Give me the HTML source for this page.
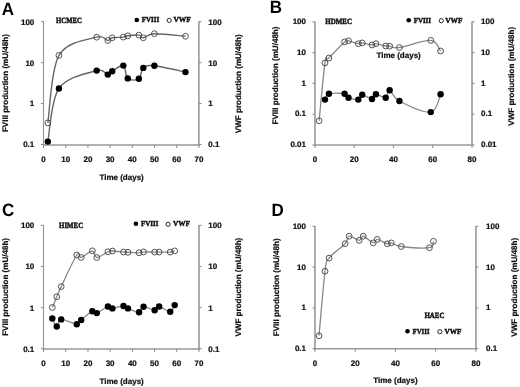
<!DOCTYPE html>
<html><head><meta charset="utf-8"><style>
html,body{margin:0;padding:0;background:#fff;width:520px;height:387px;overflow:hidden}
svg{position:absolute;left:0;top:0;will-change:transform}
.t{font-family:"Liberation Sans",sans-serif;font-weight:bold;font-size:8px;fill:#111;stroke:#111;stroke-width:0.22px}
.s{font-family:"Liberation Serif",serif;font-weight:bold;font-size:7.9px;fill:#111;stroke:#111;stroke-width:0.45px}
.v{font-size:8.05px}
.lg{font-size:7.6px}
.L{font-family:"Liberation Sans",sans-serif;font-weight:bold;font-size:17px;fill:#000}
</style></head><body>
<svg width="520" height="387" viewBox="0 0 520 387" text-rendering="geometricPrecision">
<path d="M43.5,21.40 V145.60" fill="none" stroke="#999999" stroke-width="1.2"/>
<path d="M198.9,21.40 V145.80" fill="none" stroke="#999999" stroke-width="1.6"/>
<path d="M42.90,145.0 H199.70" fill="none" stroke="#999999" stroke-width="1.6"/>
<path d="M40.90,21.70 H43.5 M198.9,21.70 H201.50" stroke="#8a8a8a" stroke-width="1"/>
<text x="34.3" y="24.60" text-anchor="end" class="t">100</text>
<text x="208.3" y="24.60" class="t">100</text>
<path d="M40.90,62.63 H43.5 M198.9,62.63 H201.50" stroke="#8a8a8a" stroke-width="1"/>
<text x="34.3" y="65.53" text-anchor="end" class="t">10</text>
<text x="208.3" y="65.53" class="t">10</text>
<path d="M40.90,103.57 H43.5 M198.9,103.57 H201.50" stroke="#8a8a8a" stroke-width="1"/>
<text x="34.3" y="106.47" text-anchor="end" class="t">1</text>
<text x="208.3" y="106.47" class="t">1</text>
<path d="M40.90,144.50 H43.5 M198.9,144.50 H201.50" stroke="#8a8a8a" stroke-width="1"/>
<text x="34.3" y="147.40" text-anchor="end" class="t">0.1</text>
<text x="208.3" y="147.40" class="t">0.1</text>
<path d="M43.50,145.0 V148.00" stroke="#8a8a8a" stroke-width="1"/>
<text x="43.50" y="161.80" text-anchor="middle" class="t">0</text>
<path d="M65.70,145.0 V148.00" stroke="#8a8a8a" stroke-width="1"/>
<text x="65.70" y="161.80" text-anchor="middle" class="t">10</text>
<path d="M87.90,145.0 V148.00" stroke="#8a8a8a" stroke-width="1"/>
<text x="87.90" y="161.80" text-anchor="middle" class="t">20</text>
<path d="M110.10,145.0 V148.00" stroke="#8a8a8a" stroke-width="1"/>
<text x="110.10" y="161.80" text-anchor="middle" class="t">30</text>
<path d="M132.30,145.0 V148.00" stroke="#8a8a8a" stroke-width="1"/>
<text x="132.30" y="161.80" text-anchor="middle" class="t">40</text>
<path d="M154.50,145.0 V148.00" stroke="#8a8a8a" stroke-width="1"/>
<text x="154.50" y="161.80" text-anchor="middle" class="t">50</text>
<path d="M176.70,145.0 V148.00" stroke="#8a8a8a" stroke-width="1"/>
<text x="176.70" y="161.80" text-anchor="middle" class="t">60</text>
<path d="M198.90,145.0 V148.00" stroke="#8a8a8a" stroke-width="1"/>
<text x="198.90" y="161.80" text-anchor="middle" class="t">70</text>
<text x="121.6" y="180.10" text-anchor="middle" class="t">Time (days)</text>
<text transform="translate(7.8,83.1) rotate(-90)" text-anchor="middle" class="t v">FVIII production (mU/48h)</text>
<text transform="translate(240.8,83.75) rotate(-90)" text-anchor="middle" class="t v">VWF production (mU/48h)</text>
<text transform="translate(1.7,14.9) scale(1,1.05)" class="L">A</text>
<text x="56.1" y="23.2" class="s" textLength="25.80" lengthAdjust="spacingAndGlyphs">HCMEC</text>
<circle cx="136.8" cy="20.0" r="2.3" fill="#000"/>
<text x="141.75" y="22.30" class="s lg" textLength="17.50" lengthAdjust="spacingAndGlyphs">FVIII</text>
<circle cx="169.2" cy="20.4" r="2.1" fill="#fff" stroke="#111" stroke-width="0.9"/>
<text x="173.4" y="22.30" class="s lg" textLength="17.50" lengthAdjust="spacingAndGlyphs">VWF</text>
<path d="M47.84,122.90 C49.69,111.65 50.80,69.68 58.94,55.40 C67.08,41.12 88.54,39.68 96.68,37.20 C104.82,34.72 105.19,40.40 107.78,40.50 C110.37,40.60 109.63,38.37 112.22,37.80 C114.81,37.23 120.73,37.43 123.32,37.10 C125.91,36.77 125.17,36.13 127.76,35.80 C130.35,35.47 136.27,34.77 138.86,35.10 C141.45,35.43 140.71,38.03 143.30,37.80 C145.89,37.57 147.37,33.95 154.40,33.70 C161.43,33.45 180.30,35.87 185.48,36.30" fill="none" stroke="#666" stroke-width="1.4"/>
<path d="M47.84,141.60 C49.69,132.75 50.80,100.33 58.94,88.50 C67.08,76.67 88.54,72.92 96.68,70.60 C104.82,68.28 105.19,74.50 107.78,74.60 C110.37,74.70 109.63,72.70 112.22,71.20 C114.81,69.70 120.73,64.40 123.32,65.60 C125.91,66.80 125.17,76.20 127.76,78.40 C130.35,80.60 136.27,80.55 138.86,78.80 C141.45,77.05 140.71,70.07 143.30,67.90 C145.89,65.73 147.37,65.10 154.40,65.80 C161.43,66.50 180.30,71.05 185.48,72.10" fill="none" stroke="#666" stroke-width="1.4"/>
<circle cx="47.84" cy="122.90" r="2.9" fill="none" stroke="#4a4a4a" stroke-width="0.95"/>
<circle cx="58.94" cy="55.40" r="2.9" fill="none" stroke="#4a4a4a" stroke-width="0.95"/>
<circle cx="96.68" cy="37.20" r="2.9" fill="none" stroke="#4a4a4a" stroke-width="0.95"/>
<circle cx="107.78" cy="40.50" r="2.9" fill="none" stroke="#4a4a4a" stroke-width="0.95"/>
<circle cx="112.22" cy="37.80" r="2.9" fill="none" stroke="#4a4a4a" stroke-width="0.95"/>
<circle cx="123.32" cy="37.10" r="2.9" fill="none" stroke="#4a4a4a" stroke-width="0.95"/>
<circle cx="127.76" cy="35.80" r="2.9" fill="none" stroke="#4a4a4a" stroke-width="0.95"/>
<circle cx="138.86" cy="35.10" r="2.9" fill="none" stroke="#4a4a4a" stroke-width="0.95"/>
<circle cx="143.30" cy="37.80" r="2.9" fill="none" stroke="#4a4a4a" stroke-width="0.95"/>
<circle cx="154.40" cy="33.70" r="2.9" fill="none" stroke="#4a4a4a" stroke-width="0.95"/>
<circle cx="185.48" cy="36.30" r="2.9" fill="none" stroke="#4a4a4a" stroke-width="0.95"/>
<circle cx="47.84" cy="141.60" r="3.2" fill="#000"/>
<circle cx="58.94" cy="88.50" r="3.2" fill="#000"/>
<circle cx="96.68" cy="70.60" r="3.2" fill="#000"/>
<circle cx="107.78" cy="74.60" r="3.2" fill="#000"/>
<circle cx="112.22" cy="71.20" r="3.2" fill="#000"/>
<circle cx="123.32" cy="65.60" r="3.2" fill="#000"/>
<circle cx="127.76" cy="78.40" r="3.2" fill="#000"/>
<circle cx="138.86" cy="78.80" r="3.2" fill="#000"/>
<circle cx="143.30" cy="67.90" r="3.2" fill="#000"/>
<circle cx="154.40" cy="65.80" r="3.2" fill="#000"/>
<circle cx="185.48" cy="72.10" r="3.2" fill="#000"/>
<path d="M314.95,21.50 V145.80" fill="none" stroke="#999999" stroke-width="1.6"/>
<path d="M472.0,21.50 V145.80" fill="none" stroke="#999999" stroke-width="1.6"/>
<path d="M314.15,145.0 H472.80" fill="none" stroke="#999999" stroke-width="1.6"/>
<path d="M312.35,21.80 H314.95 M472.0,21.80 H474.60" stroke="#8a8a8a" stroke-width="1"/>
<text x="306.0" y="24.00" text-anchor="end" class="t">100</text>
<text x="481.0" y="24.00" class="t">100</text>
<path d="M312.35,52.60 H314.95 M472.0,52.60 H474.60" stroke="#8a8a8a" stroke-width="1"/>
<text x="306.0" y="54.80" text-anchor="end" class="t">10</text>
<text x="481.0" y="54.80" class="t">10</text>
<path d="M312.35,83.40 H314.95 M472.0,83.40 H474.60" stroke="#8a8a8a" stroke-width="1"/>
<text x="306.0" y="85.60" text-anchor="end" class="t">1</text>
<text x="481.0" y="85.60" class="t">1</text>
<path d="M312.35,114.20 H314.95 M472.0,114.20 H474.60" stroke="#8a8a8a" stroke-width="1"/>
<text x="306.0" y="116.40" text-anchor="end" class="t">0.1</text>
<text x="481.0" y="116.40" class="t">0.1</text>
<path d="M312.35,145.00 H314.95 M472.0,145.00 H474.60" stroke="#8a8a8a" stroke-width="1"/>
<text x="306.0" y="147.20" text-anchor="end" class="t">0.01</text>
<text x="481.0" y="147.20" class="t">0.01</text>
<path d="M314.95,145.0 V148.00" stroke="#8a8a8a" stroke-width="1"/>
<text x="314.95" y="161.80" text-anchor="middle" class="t">0</text>
<path d="M354.21,145.0 V148.00" stroke="#8a8a8a" stroke-width="1"/>
<text x="354.21" y="161.80" text-anchor="middle" class="t">20</text>
<path d="M393.48,145.0 V148.00" stroke="#8a8a8a" stroke-width="1"/>
<text x="393.48" y="161.80" text-anchor="middle" class="t">40</text>
<path d="M432.74,145.0 V148.00" stroke="#8a8a8a" stroke-width="1"/>
<text x="432.74" y="161.80" text-anchor="middle" class="t">60</text>
<path d="M472.00,145.0 V148.00" stroke="#8a8a8a" stroke-width="1"/>
<text x="472.00" y="161.80" text-anchor="middle" class="t">80</text>
<text x="398.6" y="58.20" text-anchor="middle" class="t">Time (days)</text>
<text transform="translate(277.5,75.5) rotate(-90)" text-anchor="middle" class="t v">FVIII production (mU/48h)</text>
<text transform="translate(514.2,76.3) rotate(-90)" text-anchor="middle" class="t v">VWF production (mU/48h)</text>
<text transform="translate(269.8,12.7) scale(1,1.05)" class="L">B</text>
<text x="325.29999999999995" y="23.7" class="s" textLength="26.60" lengthAdjust="spacingAndGlyphs">HDMEC</text>
<circle cx="408.7" cy="20.3" r="2.3" fill="#000"/>
<text x="413.65000000000003" y="22.60" class="s lg" textLength="17.40" lengthAdjust="spacingAndGlyphs">FVIII</text>
<circle cx="441.3" cy="20.7" r="2.1" fill="#fff" stroke="#111" stroke-width="0.9"/>
<text x="445.29999999999995" y="22.60" class="s lg" textLength="17.10" lengthAdjust="spacingAndGlyphs">VWF</text>
<path d="M319.12,120.80 C320.10,111.15 323.36,73.37 325.00,62.90 C326.63,52.43 325.65,61.50 328.91,58.00 C332.18,54.50 341.32,44.77 344.58,41.90 C347.85,39.03 346.22,40.50 348.50,40.80 C350.79,41.10 356.01,43.35 358.30,43.70 C360.58,44.05 359.93,42.68 362.22,42.90 C364.50,43.12 369.73,44.87 372.01,45.00 C374.30,45.13 373.64,43.53 375.93,43.70 C378.21,43.87 383.44,45.58 385.72,46.00 C388.01,46.42 387.36,45.95 389.64,46.20 C391.93,46.45 392.58,48.47 399.44,47.50 C406.29,46.53 423.92,39.82 430.78,40.40 C437.64,40.98 438.94,49.23 440.58,51.00" fill="none" stroke="#888" stroke-width="1.3"/>
<path d="M325.00,99.60 C325.65,98.62 325.65,94.68 328.91,93.70 C332.18,92.72 341.32,93.03 344.58,93.70 C347.85,94.37 346.22,96.72 348.50,97.70 C350.79,98.68 356.01,100.08 358.30,99.60 C360.58,99.12 359.93,94.90 362.22,94.80 C364.50,94.70 369.73,99.10 372.01,99.00 C374.30,98.90 373.64,94.42 375.93,94.20 C378.21,93.98 383.44,98.37 385.72,97.70 C388.01,97.03 387.36,89.65 389.64,90.20 C391.93,90.75 392.58,97.35 399.44,101.00 C406.29,104.65 423.92,113.23 430.78,112.10 C437.64,110.97 438.94,97.18 440.58,94.20" fill="none" stroke="#888" stroke-width="1.3"/>
<circle cx="319.12" cy="120.80" r="2.9" fill="none" stroke="#4a4a4a" stroke-width="0.95"/>
<circle cx="325.00" cy="62.90" r="2.9" fill="none" stroke="#4a4a4a" stroke-width="0.95"/>
<circle cx="328.91" cy="58.00" r="2.9" fill="none" stroke="#4a4a4a" stroke-width="0.95"/>
<circle cx="344.58" cy="41.90" r="2.9" fill="none" stroke="#4a4a4a" stroke-width="0.95"/>
<circle cx="348.50" cy="40.80" r="2.9" fill="none" stroke="#4a4a4a" stroke-width="0.95"/>
<circle cx="358.30" cy="43.70" r="2.9" fill="none" stroke="#4a4a4a" stroke-width="0.95"/>
<circle cx="362.22" cy="42.90" r="2.9" fill="none" stroke="#4a4a4a" stroke-width="0.95"/>
<circle cx="372.01" cy="45.00" r="2.9" fill="none" stroke="#4a4a4a" stroke-width="0.95"/>
<circle cx="375.93" cy="43.70" r="2.9" fill="none" stroke="#4a4a4a" stroke-width="0.95"/>
<circle cx="385.72" cy="46.00" r="2.9" fill="none" stroke="#4a4a4a" stroke-width="0.95"/>
<circle cx="389.64" cy="46.20" r="2.9" fill="none" stroke="#4a4a4a" stroke-width="0.95"/>
<circle cx="399.44" cy="47.50" r="2.9" fill="none" stroke="#4a4a4a" stroke-width="0.95"/>
<circle cx="430.78" cy="40.40" r="2.9" fill="none" stroke="#4a4a4a" stroke-width="0.95"/>
<circle cx="440.58" cy="51.00" r="2.9" fill="none" stroke="#4a4a4a" stroke-width="0.95"/>
<circle cx="325.00" cy="99.60" r="3.2" fill="#000"/>
<circle cx="328.91" cy="93.70" r="3.2" fill="#000"/>
<circle cx="344.58" cy="93.70" r="3.2" fill="#000"/>
<circle cx="348.50" cy="97.70" r="3.2" fill="#000"/>
<circle cx="358.30" cy="99.60" r="3.2" fill="#000"/>
<circle cx="362.22" cy="94.80" r="3.2" fill="#000"/>
<circle cx="372.01" cy="99.00" r="3.2" fill="#000"/>
<circle cx="375.93" cy="94.20" r="3.2" fill="#000"/>
<circle cx="385.72" cy="97.70" r="3.2" fill="#000"/>
<circle cx="389.64" cy="90.20" r="3.2" fill="#000"/>
<circle cx="399.44" cy="101.00" r="3.2" fill="#000"/>
<circle cx="430.78" cy="112.10" r="3.2" fill="#000"/>
<circle cx="440.58" cy="94.20" r="3.2" fill="#000"/>
<path d="M43.5,225.10 V349.60" fill="none" stroke="#999999" stroke-width="1.2"/>
<path d="M199.0,225.10 V349.80" fill="none" stroke="#999999" stroke-width="1.6"/>
<path d="M42.90,349.0 H199.80" fill="none" stroke="#999999" stroke-width="1.6"/>
<path d="M40.90,225.40 H43.5 M199.0,225.40 H201.60" stroke="#8a8a8a" stroke-width="1"/>
<text x="34.3" y="228.30" text-anchor="end" class="t">100</text>
<text x="208.3" y="228.30" class="t">100</text>
<path d="M40.90,266.50 H43.5 M199.0,266.50 H201.60" stroke="#8a8a8a" stroke-width="1"/>
<text x="34.3" y="269.40" text-anchor="end" class="t">10</text>
<text x="208.3" y="269.40" class="t">10</text>
<path d="M40.90,307.60 H43.5 M199.0,307.60 H201.60" stroke="#8a8a8a" stroke-width="1"/>
<text x="34.3" y="310.50" text-anchor="end" class="t">1</text>
<text x="208.3" y="310.50" class="t">1</text>
<path d="M40.90,348.70 H43.5 M199.0,348.70 H201.60" stroke="#8a8a8a" stroke-width="1"/>
<text x="34.3" y="351.60" text-anchor="end" class="t">0.1</text>
<text x="208.3" y="351.60" class="t">0.1</text>
<path d="M43.50,349.0 V352.00" stroke="#8a8a8a" stroke-width="1"/>
<text x="43.50" y="365.80" text-anchor="middle" class="t">0</text>
<path d="M65.71,349.0 V352.00" stroke="#8a8a8a" stroke-width="1"/>
<text x="65.71" y="365.80" text-anchor="middle" class="t">10</text>
<path d="M87.93,349.0 V352.00" stroke="#8a8a8a" stroke-width="1"/>
<text x="87.93" y="365.80" text-anchor="middle" class="t">20</text>
<path d="M110.14,349.0 V352.00" stroke="#8a8a8a" stroke-width="1"/>
<text x="110.14" y="365.80" text-anchor="middle" class="t">30</text>
<path d="M132.36,349.0 V352.00" stroke="#8a8a8a" stroke-width="1"/>
<text x="132.36" y="365.80" text-anchor="middle" class="t">40</text>
<path d="M154.57,349.0 V352.00" stroke="#8a8a8a" stroke-width="1"/>
<text x="154.57" y="365.80" text-anchor="middle" class="t">50</text>
<path d="M176.79,349.0 V352.00" stroke="#8a8a8a" stroke-width="1"/>
<text x="176.79" y="365.80" text-anchor="middle" class="t">60</text>
<path d="M199.00,349.0 V352.00" stroke="#8a8a8a" stroke-width="1"/>
<text x="199.00" y="365.80" text-anchor="middle" class="t">70</text>
<text x="121.6" y="383.80" text-anchor="middle" class="t">Time (days)</text>
<text transform="translate(7.9,286.9) rotate(-90)" text-anchor="middle" class="t v">FVIII production (mU/48h)</text>
<text transform="translate(240.7,287.1) rotate(-90)" text-anchor="middle" class="t v">VWF production (mU/48h)</text>
<text transform="translate(1.9,215.9) scale(1,1.05)" class="L">C</text>
<text x="59.1" y="227.7" class="s" textLength="24.00" lengthAdjust="spacingAndGlyphs">HIMEC</text>
<circle cx="135.9" cy="223.7" r="2.3" fill="#000"/>
<text x="140.95" y="226.20" class="s lg" textLength="17.50" lengthAdjust="spacingAndGlyphs">FVIII</text>
<circle cx="168.1" cy="224.3" r="2.1" fill="#fff" stroke="#111" stroke-width="0.9"/>
<text x="173.0" y="226.20" class="s lg" textLength="16.90" lengthAdjust="spacingAndGlyphs">VWF</text>
<path d="M52.30,307.50 C53.04,305.72 55.27,300.28 56.75,296.80 C58.23,293.32 57.86,293.57 61.20,286.60 C64.54,279.63 73.44,259.85 76.78,255.00 C80.11,250.15 78.63,258.20 81.22,257.50 C83.82,256.80 89.75,250.80 92.35,250.80 C94.95,250.80 94.20,257.33 96.80,257.50 C99.40,257.67 105.33,252.88 107.93,251.80 C110.52,250.72 109.78,250.97 112.38,251.00 C114.97,251.03 120.90,251.78 123.50,252.00 C126.10,252.22 125.35,252.17 127.95,252.30 C130.55,252.43 136.48,252.87 139.07,252.80 C141.67,252.73 140.93,252.02 143.53,251.90 C146.12,251.78 152.05,252.07 154.65,252.10 C157.25,252.13 156.50,252.10 159.10,252.10 C161.70,252.10 167.63,252.30 170.22,252.10 C172.82,251.90 173.93,251.10 174.68,250.90" fill="none" stroke="#888" stroke-width="1.3"/>
<path d="M52.30,318.50 C53.04,319.83 55.27,326.35 56.75,326.50 C58.23,326.65 57.86,319.78 61.20,319.40 C64.54,319.02 73.44,324.10 76.78,324.20 C80.11,324.30 78.63,322.17 81.22,320.00 C83.82,317.83 89.75,312.35 92.35,311.20 C94.95,310.05 94.20,313.88 96.80,313.10 C99.40,312.32 105.33,307.28 107.93,306.50 C110.52,305.72 109.78,308.48 112.38,308.40 C114.97,308.32 120.90,306.00 123.50,306.00 C126.10,306.00 125.35,307.35 127.95,308.40 C130.55,309.45 136.48,312.58 139.07,312.30 C141.67,312.02 140.93,307.05 143.53,306.70 C146.12,306.35 152.05,310.23 154.65,310.20 C157.25,310.17 156.50,306.23 159.10,306.50 C161.70,306.77 167.63,312.03 170.22,311.80 C172.82,311.57 173.93,306.22 174.68,305.10" fill="none" stroke="#888" stroke-width="1.3"/>
<circle cx="52.30" cy="307.50" r="2.9" fill="none" stroke="#4a4a4a" stroke-width="0.95"/>
<circle cx="56.75" cy="296.80" r="2.9" fill="none" stroke="#4a4a4a" stroke-width="0.95"/>
<circle cx="61.20" cy="286.60" r="2.9" fill="none" stroke="#4a4a4a" stroke-width="0.95"/>
<circle cx="76.78" cy="255.00" r="2.9" fill="none" stroke="#4a4a4a" stroke-width="0.95"/>
<circle cx="81.22" cy="257.50" r="2.9" fill="none" stroke="#4a4a4a" stroke-width="0.95"/>
<circle cx="92.35" cy="250.80" r="2.9" fill="none" stroke="#4a4a4a" stroke-width="0.95"/>
<circle cx="96.80" cy="257.50" r="2.9" fill="none" stroke="#4a4a4a" stroke-width="0.95"/>
<circle cx="107.93" cy="251.80" r="2.9" fill="none" stroke="#4a4a4a" stroke-width="0.95"/>
<circle cx="112.38" cy="251.00" r="2.9" fill="none" stroke="#4a4a4a" stroke-width="0.95"/>
<circle cx="123.50" cy="252.00" r="2.9" fill="none" stroke="#4a4a4a" stroke-width="0.95"/>
<circle cx="127.95" cy="252.30" r="2.9" fill="none" stroke="#4a4a4a" stroke-width="0.95"/>
<circle cx="139.07" cy="252.80" r="2.9" fill="none" stroke="#4a4a4a" stroke-width="0.95"/>
<circle cx="143.53" cy="251.90" r="2.9" fill="none" stroke="#4a4a4a" stroke-width="0.95"/>
<circle cx="154.65" cy="252.10" r="2.9" fill="none" stroke="#4a4a4a" stroke-width="0.95"/>
<circle cx="159.10" cy="252.10" r="2.9" fill="none" stroke="#4a4a4a" stroke-width="0.95"/>
<circle cx="170.22" cy="252.10" r="2.9" fill="none" stroke="#4a4a4a" stroke-width="0.95"/>
<circle cx="174.68" cy="250.90" r="2.9" fill="none" stroke="#4a4a4a" stroke-width="0.95"/>
<circle cx="52.30" cy="318.50" r="3.2" fill="#000"/>
<circle cx="56.75" cy="326.50" r="3.2" fill="#000"/>
<circle cx="61.20" cy="319.40" r="3.2" fill="#000"/>
<circle cx="76.78" cy="324.20" r="3.2" fill="#000"/>
<circle cx="81.22" cy="320.00" r="3.2" fill="#000"/>
<circle cx="92.35" cy="311.20" r="3.2" fill="#000"/>
<circle cx="96.80" cy="313.10" r="3.2" fill="#000"/>
<circle cx="107.93" cy="306.50" r="3.2" fill="#000"/>
<circle cx="112.38" cy="308.40" r="3.2" fill="#000"/>
<circle cx="123.50" cy="306.00" r="3.2" fill="#000"/>
<circle cx="127.95" cy="308.40" r="3.2" fill="#000"/>
<circle cx="139.07" cy="312.30" r="3.2" fill="#000"/>
<circle cx="143.53" cy="306.70" r="3.2" fill="#000"/>
<circle cx="154.65" cy="310.20" r="3.2" fill="#000"/>
<circle cx="159.10" cy="306.50" r="3.2" fill="#000"/>
<circle cx="170.22" cy="311.80" r="3.2" fill="#000"/>
<circle cx="174.68" cy="305.10" r="3.2" fill="#000"/>
<path d="M314.95,226.00 V349.60" fill="none" stroke="#999999" stroke-width="1.6"/>
<path d="M475.9,226.00 V349.60" fill="none" stroke="#999999" stroke-width="1.6"/>
<path d="M314.15,348.8 H476.70" fill="none" stroke="#999999" stroke-width="1.6"/>
<path d="M312.35,226.30 H314.95 M475.9,226.30 H478.50" stroke="#8a8a8a" stroke-width="1"/>
<text x="306.0" y="228.70" text-anchor="end" class="t">100</text>
<text x="486.0" y="228.70" class="t">100</text>
<path d="M312.35,267.10 H314.95 M475.9,267.10 H478.50" stroke="#8a8a8a" stroke-width="1"/>
<text x="306.0" y="269.50" text-anchor="end" class="t">10</text>
<text x="486.0" y="269.50" class="t">10</text>
<path d="M312.35,307.90 H314.95 M475.9,307.90 H478.50" stroke="#8a8a8a" stroke-width="1"/>
<text x="306.0" y="310.30" text-anchor="end" class="t">1</text>
<text x="486.0" y="310.30" class="t">1</text>
<path d="M312.35,348.70 H314.95 M475.9,348.70 H478.50" stroke="#8a8a8a" stroke-width="1"/>
<text x="306.0" y="351.10" text-anchor="end" class="t">0.1</text>
<text x="486.0" y="351.10" class="t">0.1</text>
<path d="M314.95,348.8 V351.80" stroke="#8a8a8a" stroke-width="1"/>
<text x="314.95" y="365.80" text-anchor="middle" class="t">0</text>
<path d="M355.19,348.8 V351.80" stroke="#8a8a8a" stroke-width="1"/>
<text x="355.19" y="365.80" text-anchor="middle" class="t">20</text>
<path d="M395.42,348.8 V351.80" stroke="#8a8a8a" stroke-width="1"/>
<text x="395.42" y="365.80" text-anchor="middle" class="t">40</text>
<path d="M435.66,348.8 V351.80" stroke="#8a8a8a" stroke-width="1"/>
<text x="435.66" y="365.80" text-anchor="middle" class="t">60</text>
<path d="M475.90,348.8 V351.80" stroke="#8a8a8a" stroke-width="1"/>
<text x="475.90" y="365.80" text-anchor="middle" class="t">80</text>
<text x="395.4" y="382.60" text-anchor="middle" class="t">Time (days)</text>
<text transform="translate(278.6,287.3) rotate(-90)" text-anchor="middle" class="t v">FVIII production (mU/48h)</text>
<text transform="translate(516.6,287.3) rotate(-90)" text-anchor="middle" class="t v">VWF production (mU/48h)</text>
<text transform="translate(271.6,216.0) scale(1,1.05)" class="L">D</text>
<text x="424.5" y="317.9" class="s" textLength="19.90" lengthAdjust="spacingAndGlyphs">HAEC</text>
<circle cx="407.5" cy="331.3" r="2.3" fill="#000"/>
<text x="412.55" y="333.70" class="s lg" textLength="17.00" lengthAdjust="spacingAndGlyphs">FVIII</text>
<circle cx="439.8" cy="331.7" r="2.1" fill="#fff" stroke="#111" stroke-width="0.9"/>
<text x="444.5" y="333.70" class="s lg" textLength="16.80" lengthAdjust="spacingAndGlyphs">VWF</text>
<path d="M319.01,335.80 C320.02,325.03 323.36,284.15 325.04,271.20 C326.71,258.25 325.71,262.68 329.05,258.10 C332.40,253.52 341.77,247.35 345.11,243.70 C348.46,240.05 346.79,236.75 349.13,236.20 C351.47,235.65 356.82,240.40 359.17,240.40 C361.51,240.40 360.84,235.78 363.18,236.20 C365.52,236.62 370.88,242.37 373.22,242.90 C375.56,243.43 374.89,239.25 377.23,239.40 C379.57,239.55 384.93,243.22 387.27,243.80 C389.61,244.38 388.94,242.45 391.28,242.90 C393.63,243.35 394.97,245.70 401.32,246.50 C407.68,247.30 424.07,248.57 429.43,247.70 C434.78,246.83 432.77,242.37 433.44,241.30" fill="none" stroke="#888" stroke-width="1.3"/>
<circle cx="319.01" cy="335.80" r="2.9" fill="none" stroke="#4a4a4a" stroke-width="0.95"/>
<circle cx="325.04" cy="271.20" r="2.9" fill="none" stroke="#4a4a4a" stroke-width="0.95"/>
<circle cx="329.05" cy="258.10" r="2.9" fill="none" stroke="#4a4a4a" stroke-width="0.95"/>
<circle cx="345.11" cy="243.70" r="2.9" fill="none" stroke="#4a4a4a" stroke-width="0.95"/>
<circle cx="349.13" cy="236.20" r="2.9" fill="none" stroke="#4a4a4a" stroke-width="0.95"/>
<circle cx="359.17" cy="240.40" r="2.9" fill="none" stroke="#4a4a4a" stroke-width="0.95"/>
<circle cx="363.18" cy="236.20" r="2.9" fill="none" stroke="#4a4a4a" stroke-width="0.95"/>
<circle cx="373.22" cy="242.90" r="2.9" fill="none" stroke="#4a4a4a" stroke-width="0.95"/>
<circle cx="377.23" cy="239.40" r="2.9" fill="none" stroke="#4a4a4a" stroke-width="0.95"/>
<circle cx="387.27" cy="243.80" r="2.9" fill="none" stroke="#4a4a4a" stroke-width="0.95"/>
<circle cx="391.28" cy="242.90" r="2.9" fill="none" stroke="#4a4a4a" stroke-width="0.95"/>
<circle cx="401.32" cy="246.50" r="2.9" fill="none" stroke="#4a4a4a" stroke-width="0.95"/>
<circle cx="429.43" cy="247.70" r="2.9" fill="none" stroke="#4a4a4a" stroke-width="0.95"/>
<circle cx="433.44" cy="241.30" r="2.9" fill="none" stroke="#4a4a4a" stroke-width="0.95"/>
</svg>
</body></html>
